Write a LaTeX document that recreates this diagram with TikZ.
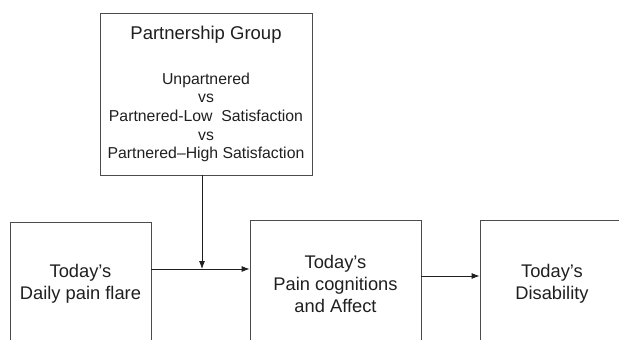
\documentclass[tikz,border=0pt]{standalone}
\usepackage{fontspec}
\setmainfont{Liberation Sans}
\usetikzlibrary{arrows.meta}
\newcommand\titletxt{\fontsize{18.5}{18.7}\selectfont}
\begin{document}
\begin{tikzpicture}[x=1pt, y=-1pt, >={Latex[length=8pt,width=6pt]},
  main/.style = {draw=black!70, line width=0.8pt, text=black!88, inner sep=0pt, align=center, font=\fontsize{18.3}{22}\selectfont},
  group/.style = {main, font=\fontsize{15.8}{18.7}\selectfont},
  link/.style = {->, draw=black!88, line width=0.8pt}]
\useasboundingbox (0,0) rectangle (619,340);
\clip (0,0) rectangle (619,340);

\node[group, minimum width=212pt, minimum height=162pt] (grp) at (206,94) {\titletxt Partnership Group\\[26pt]
  Unpartnered\\vs\\Partnered-Low~ Satisfaction\\vs\\Partnered--High Satisfaction};
\node[main, minimum width=141pt, minimum height=124pt] (flare) at (80.5,284) {Today’s\\Daily pain flare};
\node[main, minimum width=171pt, minimum height=128pt] (cog) at (335.5,284) {Today’s\\Pain cognitions\\and Affect};
\node[main, minimum width=144pt, minimum height=128pt] (dis) at (552,284) {Today’s\\Disability};

\coordinate (jn) at (202,269);
\coordinate (jn2) at (450,276);
\draw[link] (grp.south -| jn) -- (jn);
\draw[link] (flare.east |- jn) -- (cog.west |- jn);
\draw[link] (cog.east |- jn2) -- (dis.west |- jn2);
\end{tikzpicture}
\end{document}
